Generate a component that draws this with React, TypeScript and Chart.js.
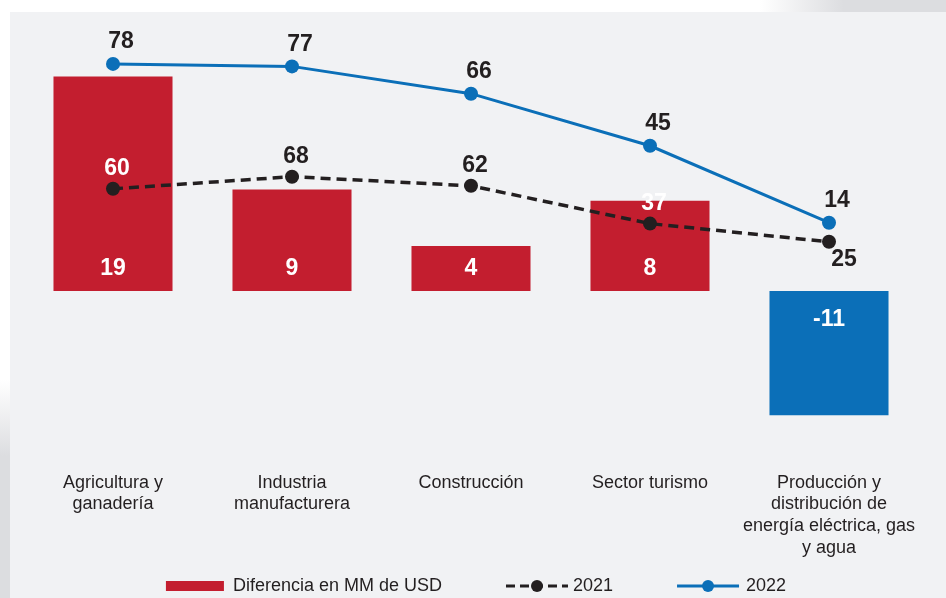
import React, { useEffect, useRef } from 'react';
import { Chart, registerables } from 'chart.js';

Chart.register(...registerables);

const categories: string[][] = [
  ['Agricultura y', 'ganadería'],
  ['Industria', 'manufacturera'],
  ['Construcción'],
  ['Sector turismo'],
  ['Producción y', 'distribución de', 'energía eléctrica, gas', 'y agua'],
];
const diferencia = [19, 9, 4, 8, -11];
const serie2021 = [60, 68, 62, 37, 25];
const serie2022 = [78, 77, 66, 45, 14];
const label2021Side = ['above', 'above', 'above', 'above', 'below'];

const legendNames = ['Diferencia en MM de USD', '2021', '2022'];

const RED = '#C31E2F';
const BLUE = '#0B6FB8';
const DARK = '#231F20';
const FONT = "'Liberation Sans', Arial, Helvetica, sans-serif";

const valueLabels = {
  id: 'valueLabels',
  afterDatasetsDraw(chart: any) {
    const ctx = chart.ctx as CanvasRenderingContext2D;
    ctx.save();
    ctx.font = `bold 23px ${FONT}`;
    ctx.textAlign = 'center';
    ctx.textBaseline = 'middle';
    const ds = chart.data.datasets;
    const barIdx = ds.findIndex((d: any) => d.kind === 'bar');
    const barEls = chart.getDatasetMeta(barIdx).data.map((el: any) => {
      const p = el.getProps(['x', 'y', 'base', 'width'], true);
      return {
        l: p.x - p.width / 2,
        r: p.x + p.width / 2,
        t: Math.min(p.y, p.base),
        b: Math.max(p.y, p.base),
        p,
      };
    });
    const inBar = (x: number, y: number) =>
      barEls.some((b: any) => x >= b.l && x <= b.r && y >= b.t && y <= b.b);

    barEls.forEach((b: any, i: number) => {
      const v = ds[barIdx].data[i];
      const y = v >= 0 ? b.p.base - 22 : b.p.base + 29;
      ctx.fillStyle = '#FFFFFF';
      ctx.fillText(String(v), b.p.x, y);
    });

    ds.forEach((d: any, di: number) => {
      if (d.kind === 'bar') return;
      const meta = chart.getDatasetMeta(di);
      meta.data.forEach((el: any, i: number) => {
        const p = el.getProps(['x', 'y'], true);
        let lx: number, ly: number;
        if (d.kind === 'l2022') {
          lx = p.x + 8;
          ly = p.y - 22;
        } else if (label2021Side[i] === 'below') {
          lx = p.x + 15;
          ly = p.y + 18;
        } else {
          lx = p.x + 4;
          ly = p.y - 20;
        }
        ctx.fillStyle = inBar(lx, ly) ? '#FFFFFF' : DARK;
        ctx.fillText(String(d.data[i]), lx, ly);
      });
    });
    ctx.restore();
  },
};

const customLegend = {
  id: 'customLegend',
  afterDraw(chart: any) {
    const ctx = chart.ctx as CanvasRenderingContext2D;
    ctx.save();
    ctx.font = `18px ${FONT}`;
    ctx.textBaseline = 'middle';
    ctx.textAlign = 'left';
    const cy = 585;
    const symW = [58, 62, 62];
    const symGap = [9, 5, 7];
    const itemGap = 64;
    const widths = legendNames.map((n) => ctx.measureText(n).width);
    let total = 0;
    widths.forEach((w, i) => {
      total += symW[i] + symGap[i] + w + (i < widths.length - 1 ? itemGap : 0);
    });
    let x = chart.width / 2 + 3 - total / 2;
    legendNames.forEach((name, i) => {
      if (i === 0) {
        ctx.fillStyle = RED;
        ctx.fillRect(x, cy - 4, symW[i], 10);
      } else {
        const color = i === 1 ? DARK : BLUE;
        ctx.strokeStyle = color;
        ctx.lineWidth = 3;
        ctx.setLineDash(i === 1 ? [9, 5] : []);
        ctx.beginPath();
        ctx.moveTo(x, cy + 1);
        ctx.lineTo(x + symW[i], cy + 1);
        ctx.stroke();
        ctx.setLineDash([]);
        ctx.fillStyle = color;
        ctx.beginPath();
        ctx.arc(x + symW[i] / 2, cy + 1, 6, 0, Math.PI * 2);
        ctx.fill();
      }
      x += symW[i] + symGap[i];
      ctx.fillStyle = DARK;
      ctx.fillText(name, x, cy + 1);
      x += widths[i] + itemGap;
    });
    ctx.restore();
  },
};

export default function App() {
  const canvasRef = useRef<HTMLCanvasElement | null>(null);

  useEffect(() => {
    if (!canvasRef.current) return;
    const chart = new Chart(canvasRef.current, {
      type: 'bar',
      data: {
        labels: categories,
        datasets: [
          {
            kind: 'l2022',
            type: 'line',
            label: '2022',
            data: serie2022,
            yAxisID: 'y22',
            borderColor: BLUE,
            backgroundColor: BLUE,
            borderWidth: 3,
            pointRadius: 7,
            pointBackgroundColor: BLUE,
            pointBorderWidth: 0,
            tension: 0,
            order: 1,
          } as any,
          {
            kind: 'l2021',
            type: 'line',
            label: '2021',
            data: serie2021,
            yAxisID: 'y21',
            borderColor: DARK,
            backgroundColor: DARK,
            borderWidth: 3.5,
            borderDash: [10, 6],
            pointRadius: 7,
            pointBackgroundColor: DARK,
            pointBorderWidth: 0,
            tension: 0,
            order: 2,
          } as any,
          {
            kind: 'bar',
            type: 'bar',
            label: legendNames[0],
            data: diferencia,
            yAxisID: 'yBar',
            backgroundColor: diferencia.map((v) => (v < 0 ? BLUE : RED)),
            borderWidth: 0,
            categoryPercentage: 1,
            barPercentage: 0.665,
            order: 3,
          } as any,
        ],
      },
      options: {
        responsive: false,
        animation: false,
        layout: { padding: { left: 23.5, right: 27.5, top: 20, bottom: 27 } },
        plugins: {
          legend: { display: false },
          tooltip: { enabled: false },
          title: { display: false },
        },
        scales: {
          x: {
            grid: { display: false, drawTicks: false },
            border: { display: false },
            ticks: {
              color: DARK,
              font: { family: FONT, size: 18, lineHeight: 1.2 },
              padding: 1,
              maxRotation: 0,
              autoSkip: false,
            },
            afterFit(scale: any) {
              scale.height = 100;
            },
          },
          yBar: { display: false, min: -15.93, max: 24 },
          y21: { display: false, min: -126.4, max: 171.5 },
          y22: { display: false, min: -86.1, max: 95.7 },
        },
      } as any,
      plugins: [valueLabels, customLegend],
    });
    return () => chart.destroy();
  }, []);

  return (
    <div
      style={{
        position: 'absolute',
        left: 0,
        top: 0,
        width: 946,
        height: 598,
        background: '#FFFFFF',
        overflow: 'hidden',
      }}
    >
      <div
        style={{
          position: 'absolute',
          left: 760,
          top: 0,
          width: 186,
          height: 12,
          background: 'linear-gradient(to right, rgba(220,221,224,0), #DCDDE0 45%)',
        }}
      />
      <div
        style={{
          position: 'absolute',
          left: 0,
          top: 380,
          width: 10,
          height: 218,
          background: 'linear-gradient(to bottom, rgba(220,221,224,0), #DCDDE0 35%)',
        }}
      />
      <div
        style={{
          position: 'absolute',
          left: 10,
          top: 12,
          right: 0,
          bottom: 0,
          background: '#F1F2F4',
        }}
      />
      <canvas
        ref={canvasRef}
        width={946}
        height={598}
        style={{ position: 'absolute', left: 0, top: 0 }}
      />
    </div>
  );
}
